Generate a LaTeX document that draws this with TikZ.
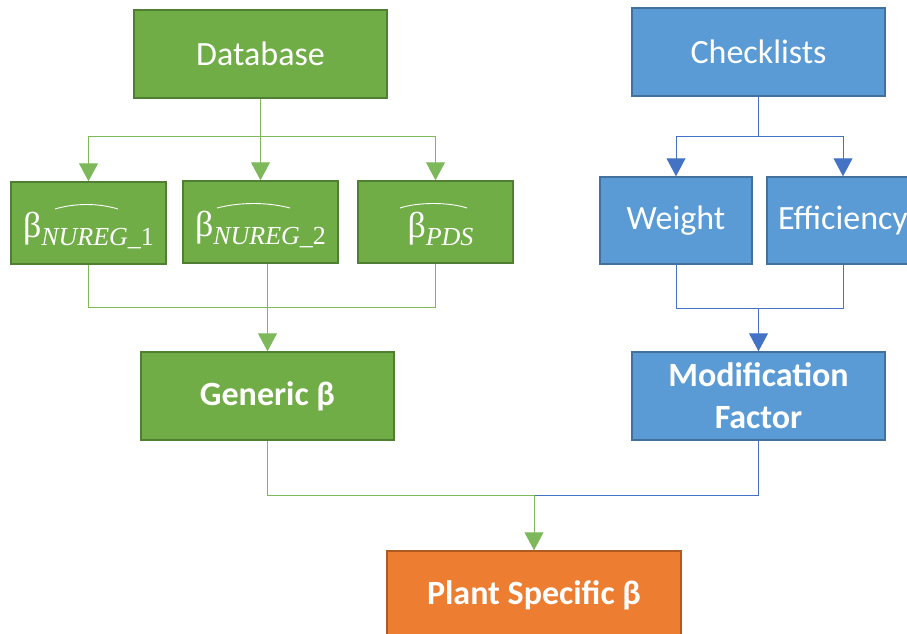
\documentclass[tikz,border=0pt]{standalone}
\usepackage{fontspec}
\setmainfont{Carlito}
\newfontfamily\serfont{Liberation Serif}
\usetikzlibrary{arrows.meta}
\definecolor{gfill}{HTML}{70AD47}
\definecolor{gdraw}{HTML}{507E32}
\definecolor{bfill}{HTML}{5B9BD5}
\definecolor{bdraw}{HTML}{41719C}
\definecolor{ofill}{HTML}{ED7D31}
\definecolor{odraw}{HTML}{AE5A21}
\definecolor{bline}{HTML}{4472C4}
\definecolor{gline}{HTML}{7DB85A}
\tikzset{
  box/.style={draw, line width=1.5pt, inner sep=0pt, text=white, align=center,
    font=\fontsize{34}{42}\selectfont},
  bigbox/.style={box, minimum width=253pt, minimum height=88pt},
  smallbox/.style={box, minimum width=155pt, minimum height=82pt},
  gbox/.style={fill=gfill, draw=gdraw},
  bbox/.style={fill=bfill, draw=bdraw},
  obox/.style={fill=ofill, draw=odraw},
  lab/.style={text=white, inner sep=0pt},
  gln/.style={draw=gline, line width=1pt},
  bln/.style={draw=bline, line width=1pt},
  garr/.style={gln, -{Triangle[width=19pt,length=18pt]}},
  barr/.style={bln, -{Triangle[width=19pt,length=18pt]}},
  hatline/.style={draw=white, line width=0.9pt},
  bold/.style={font=\fontsize{34}{42}\selectfont\bfseries}
}
\newcommand{\betalab}[2]{{\serfont\fontsize{36}{40}\selectfont β}\raisebox{-8pt}{\serfont\fontsize{26}{30}\selectfont #1#2}}
\begin{document}
\begin{tikzpicture}[x=1pt,y=-1pt]
\useasboundingbox (0,0) rectangle (907,633);
\clip (0,0) rectangle (907,633);
% green side
\node[bigbox,gbox] (db) at (260.5,54) {Database};
\node[smallbox,gbox] (n1) at (88.5,223) {};
\node[smallbox,gbox] (n2) at (260.5,222) {};
\node[smallbox,gbox] (n3) at (435.5,222) {};
\node[lab] (n1t) at ([yshift=-7pt]n1.center) {\betalab{\itshape NUREG}{\upshape\_1}};
\node[lab] (n2t) at ([yshift=-7pt]n2.center) {\betalab{\itshape NUREG}{\upshape\_2}};
\node[lab] (n3t) at ([xshift=5pt,yshift=-7pt]n3.center) {\betalab{\itshape PDS}{}};
\node[bigbox,gbox,bold] (gen) at (267.5,396) {Generic β};
% blue side
\node[bigbox,bbox] (ck) at (758.5,52) {Checklists};
\node[box,bbox,minimum width=152pt,minimum height=87pt] (w) at (676,220.5) {Weight};
\node[box,bbox,minimum width=152pt,minimum height=87pt] (eff) at (843,220.5) {Efficiency};
\node[bigbox,bbox,bold] (mod) at (758.5,396) {Modification\\Factor};
% orange
\node[box,obox,bold,minimum width=294pt,minimum height=88pt] (ps) at (534,595) {Plant Specific β};
% hats
\draw[hatline] (55,209) .. controls (75,203) and (98,203) .. (118,209);
\draw[hatline] (217,208) .. controls (240,202) and (267,202) .. (290,208);
\draw[hatline] (400,208) .. controls (418,202) and (449,202) .. (467,208);
% database connectors
\coordinate (dbj) at (260.5,136);
\draw[gln] (db.south) -- (dbj);
\draw[gln] (dbj -| n1) -- (dbj -| n3);
\draw[garr] (dbj -| n1) -- (n1.north);
\draw[garr] (dbj -| n2) -- (n2.north);
\draw[garr] (dbj -| n3) -- (n3.north);
% to generic
\coordinate (gj) at (267.5,307);
\draw[gln] (n1.south) -- (gj -| n1) -- (gj -| n3) -- (n3.south);
\draw[garr] (gen |- n2.south) -- (gen.north);
% checklists connectors
\coordinate (ckj) at (758.5,136);
\draw[bln] (ck.south) -- (ckj);
\draw[bln] (ckj -| w) -- (ckj -| eff);
\draw[barr] (ckj -| w) -- (w.north);
\draw[barr] (ckj -| eff) -- (eff.north);
% to modification
\coordinate (mj) at (758.5,308);
\draw[bln] (w.south) -- (mj -| w) -- (mj -| eff) -- (eff.south);
\draw[barr] (mj) -- (mod.north);
% to plant specific
\coordinate (pj) at (534,495);
\draw[gln] (gen.south) -- (gen |- pj) -- (pj);
\draw[bln] (mod.south) -- (mod |- pj) -- (pj);
\draw[garr] (pj) -- (ps.north);
\end{tikzpicture}
\end{document}
